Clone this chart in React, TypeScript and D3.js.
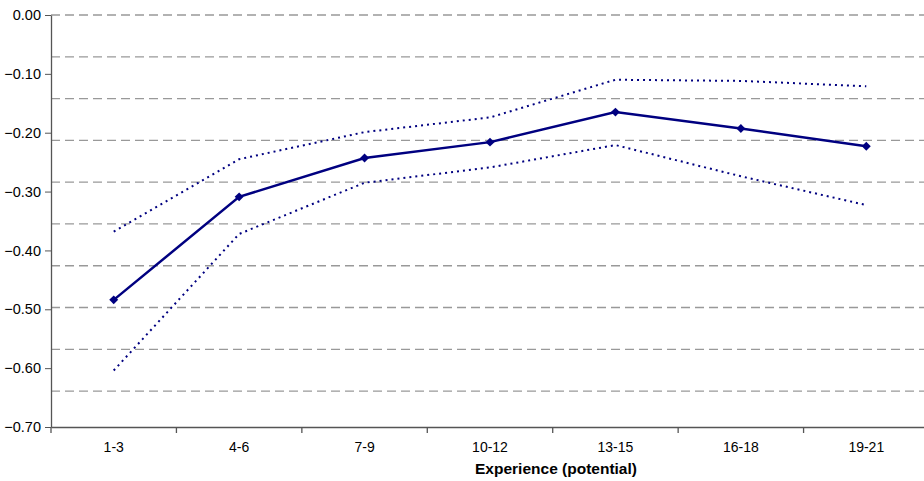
import React, { useEffect, useRef } from 'react';
import * as d3 from 'd3';

const categories = ['1-3', '4-6', '7-9', '10-12', '13-15', '16-18', '19-21'];
const estimate = [-0.484, -0.309, -0.243, -0.216, -0.165, -0.193, -0.223];
const upper = [-0.368, -0.245, -0.199, -0.174, -0.110, -0.112, -0.121];
const lower = [-0.604, -0.372, -0.285, -0.259, -0.221, -0.274, -0.323];
const yTicks = [0, -0.1, -0.2, -0.3, -0.4, -0.5, -0.6, -0.7];
const gridStep = 0.071;

const App = () => {
  const svgRef = useRef<SVGSVGElement>(null);

  useEffect(() => {
    const svg = d3.select(svgRef.current);
    svg.selectAll('*').remove();

    const width = 924, height = 481;
    const margin = { top: 15, right: -5, bottom: 54, left: 51 };
    const navy = '#000080';
    const font = 'Liberation Sans, Arial, sans-serif';

    const x = d3.scaleBand()
      .domain(categories)
      .range([margin.left, width - margin.right]);

    const y = d3.scaleLinear()
      .domain([-0.7, 0])
      .range([height - margin.bottom, margin.top]);

    // Gridlines
    const grid = d3.range(0, 10).map(i => -i * gridStep);
    svg.append('g')
      .selectAll('line')
      .data(grid)
      .join('line')
      .attr('x1', margin.left)
      .attr('x2', width)
      .attr('y1', d => y(d))
      .attr('y2', d => y(d))
      .attr('stroke', '#999')
      .attr('stroke-width', 1.3)
      .attr('stroke-dasharray', '9,5');

    // Axes
    const yAxis = svg.append('g')
      .attr('transform', `translate(${margin.left},0)`)
      .call(d3.axisLeft(y).tickValues(yTicks).tickFormat(d3.format('.2f')).tickSize(6).tickSizeOuter(0));
    yAxis.select('.domain').attr('stroke', '#555').attr('stroke-width', 1.3);
    yAxis.selectAll('.tick line').attr('stroke', '#555');
    yAxis.selectAll('.tick text')
      .attr('x', -10)
      .style('font-family', font)
      .style('font-size', '14.5px')
      .attr('fill', '#000');

    const xAxis = svg.append('g')
      .attr('transform', `translate(0,${y(-0.7)})`)
      .call(d3.axisBottom(x).tickSize(0).tickSizeOuter(0));
    xAxis.select('.domain').attr('stroke', '#555').attr('stroke-width', 1.3);
    xAxis.selectAll('.tick text')
      .attr('dy', '1.55em')
      .style('font-family', font)
      .style('font-size', '14px')
      .attr('fill', '#000');

    // category boundary ticks
    svg.append('g')
      .selectAll('line')
      .data(categories)
      .join('line')
      .attr('x1', d => x(d)!)
      .attr('x2', d => x(d)!)
      .attr('y1', y(-0.7))
      .attr('y2', y(-0.7) + 6)
      .attr('stroke', '#555')
      .attr('stroke-width', 1.3);

    svg.append('text')
      .attr('x', 556)
      .attr('y', 474)
      .attr('text-anchor', 'middle')
      .style('font-family', font)
      .style('font-size', '15.5px')
      .style('font-weight', 'bold')
      .text('Experience (potential)');

    const cx = (c: string) => x(c)! + x.bandwidth() / 2;
    const line = d3.line<number>()
      .x((_, i) => cx(categories[i]))
      .y(d => y(d));

    [upper, lower].forEach(series => {
      svg.append('path')
        .datum(series)
        .attr('d', line)
        .attr('fill', 'none')
        .attr('stroke', navy)
        .attr('stroke-width', 2)
        .attr('stroke-dasharray', '2,4');
    });

    svg.append('path')
      .datum(estimate)
      .attr('d', line)
      .attr('fill', 'none')
      .attr('stroke', navy)
      .attr('stroke-width', 2.5);

    const marker = d3.symbol().type(d3.symbolSquare).size(40);
    svg.append('g')
      .selectAll('path')
      .data(estimate)
      .join('path')
      .attr('d', marker)
      .attr('transform', (d, i) => `translate(${cx(categories[i])},${y(d)}) rotate(45)`)
      .attr('fill', navy);
  }, []);

  return (
    <svg
      ref={svgRef}
      width={924}
      height={481}
      style={{ position: 'absolute', left: 0, top: 0, background: '#fff' }}
    ></svg>
  );
};

export default App;
